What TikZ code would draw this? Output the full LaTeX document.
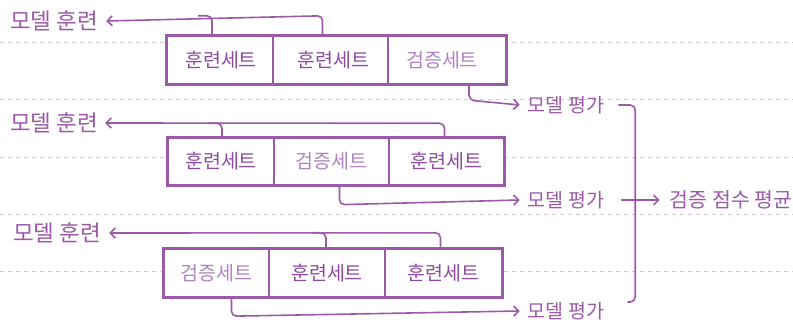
\documentclass[tikz,border=0pt]{standalone}
\usepackage{fontspec}
\newfontfamily\kr{Noto Sans CJK KR}
\usetikzlibrary{arrows.meta}
\definecolor{pline}{RGB}{155,89,168}
\definecolor{ptext}{RGB}{140,75,160}
\definecolor{plight}{RGB}{175,132,192}
\definecolor{gridgray}{RGB}{205,205,205}
\begin{document}
\begin{tikzpicture}[x=1pt,y=-1pt,
  cell/.style={inner sep=0pt, minimum height=48pt, font=\kr\fontsize{19.5}{19.5}\selectfont},
  train/.style={cell,text=ptext},
  valid/.style={cell,text=plight},
  lbl/.style={inner sep=0pt, font=\kr\fontsize{19.5}{19.5}\selectfont, text=pline},
  biglbl/.style={lbl, font=\kr\fontsize{22.5}{22.5}\selectfont},
  boxline/.style={draw=pline, line width=3.2pt},
  divline/.style={draw=pline, line width=2pt},
  conn/.style={draw=pline, line width=1.6pt, rounded corners=5pt},
  tip/.style={-{Straight Barb[length=5pt,width=10pt]}},
  gridline/.style={draw=gridgray, line width=1pt, dash pattern=on 4pt off 4pt}]

\useasboundingbox (0,0) rectangle (793,323);
\fill[white] (0,0) rectangle (793,323);

% background ruled lines
\foreach \yy in {43,100,158,215,272}{
  \draw[gridline] (0,\yy) -- (793,\yy);
}

% ---------- row 1 ----------
\node[train, minimum width=106pt] (c11) at (220,60) {};
\node[train, minimum width=115pt] (c12) at (330.5,60) {};
\node[valid, minimum width=118pt] (c13) at (447,60) {};
\fill[white] (c11.south west) rectangle (c13.north east);
\node[train] at ([xshift=1pt]c11) {훈련세트};
\node[train] at ([xshift=3pt]c12) {훈련세트};
\node[valid] at ([xshift=-5pt]c13) {검증세트};
\draw[boxline] (c11.south west) rectangle (c13.north east);
\draw[divline] (c11.north east) -- (c11.south east);
\draw[divline] (c12.north east) -- (c12.south east);

% ---------- row 2 ----------
\node[train, minimum width=106pt] (c21) at (221,161.5) {};
\node[valid, minimum width=115pt] (c22) at (331.5,161.5) {};
\node[train, minimum width=115pt] (c23) at (446.5,161.5) {};
\fill[white] (c21.south west) rectangle (c23.north east);
\node[train] at (c21) {훈련세트};
\node[valid] at (c22) {검증세트};
\node[train] at (c23) {훈련세트};
\draw[boxline] (c21.south west) rectangle (c23.north east);
\draw[divline] (c21.north east) -- (c21.south east);
\draw[divline] (c22.north east) -- (c22.south east);

% ---------- row 3 ----------
\node[valid, minimum width=105pt] (c31) at (216.5,273) {};
\node[train, minimum width=116pt] (c32) at (327,273) {};
\node[train, minimum width=117pt] (c33) at (443.5,273) {};
\fill[white] (c31.south west) rectangle (c33.north east);
\node[valid] at (c31) {검증세트};
\node[train] at (c32) {훈련세트};
\node[train] at (c33) {훈련세트};
\draw[boxline] (c31.south west) rectangle (c33.north east);
\draw[divline] (c31.north east) -- (c31.south east);
\draw[divline] (c32.north east) -- (c32.south east);

% ---------- labels ----------
\node[biglbl] (t1) at (54,21) {모델 훈련};
\node[biglbl] (t2) at (54,123) {모델 훈련};
\node[biglbl] (t3) at (57,233) {모델 훈련};
\node[lbl] (e1) at (566,105) {모델 평가};
\node[lbl] (e2) at (566,200) {모델 평가};
\node[lbl] (e3) at (566,311) {모델 평가};
\node[lbl, font=\kr\fontsize{20.5}{20.5}\selectfont] (avg) at (731,200) {검증 점수 평균};

% ---------- training connectors ----------
\draw[conn,tip] ([xshift=-8pt]c12.north) -- ++(0,-20) -- ([xshift=8pt]t1.east);
\draw[conn] ([xshift=-8pt]c11.north) -- ++(0,-20) -- ++(-14,0);

\draw[conn,tip] ([xshift=-2pt]c23.north) -- ++(0,-14) -- ([xshift=7pt]t2.east);
\draw[conn] ([xshift=1pt]c21.north) -- ++(0,-14) -- ++(-14,0);

\draw[conn,tip] ([xshift=-3pt]c33.north) -- ++(0,-16) -- ([xshift=8pt]t3.east);
\draw[conn] ([xshift=-1pt]c32.north) -- ++(0,-16) -- ++(-14,0);

% ---------- evaluation connectors ----------
\draw[conn,tip] ([xshift=22pt]c13.south) -- ++(0,16) -- ([xshift=-8pt]e1.west);
\draw[conn,tip] ([xshift=8pt]c22.south) -- ++(0,19) -- ([xshift=-8pt]e2.west);
\draw[conn,tip] ([xshift=15pt]c31.south) -- ++(0,19) -- ([xshift=-8pt]e3.west);

% ---------- bracket and average ----------
\coordinate (bt) at ([xshift=31pt]e1.east);
\draw[conn] ([xshift=14pt]e1.east) -- (bt) -- (bt |- e3.north) -- ++(-8,0);
\draw[conn,tip] ([xshift=17pt]e2.east) -- ([xshift=-10pt]avg.west);
\end{tikzpicture}
\end{document}
